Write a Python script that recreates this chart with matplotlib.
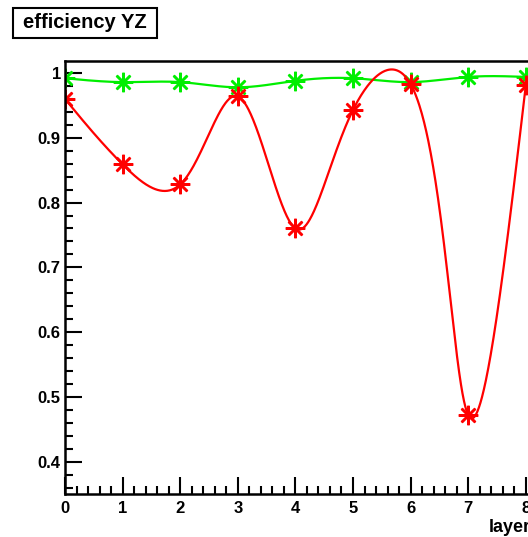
import numpy as np
import matplotlib.pyplot as plt
from matplotlib.patches import Rectangle

plt.rcParams['font.family'] = ['Liberation Sans', 'DejaVu Sans']
plt.rcParams['font.weight'] = 'bold'

layers = [0, 1, 2, 3, 4, 5, 6, 7, 8]
eff_green = [0.992, 0.986, 0.986, 0.978, 0.988, 0.992, 0.986, 0.994, 0.994]
eff_red = [0.960, 0.859, 0.828, 0.964, 0.760, 0.943, 0.983, 0.472, 0.981]

PX_X = 57.6   # pixels per layer
PX_Y = 647.0  # pixels per unit of efficiency


def spline_1d(t, y, ts):
    # natural cubic spline y(t) evaluated at ts
    m = len(t)
    h = np.diff(t)
    A = np.zeros((m, m))
    r = np.zeros(m)
    A[0, 0] = A[-1, -1] = 1
    for i in range(1, m - 1):
        A[i, i - 1] = h[i - 1]
        A[i, i] = 2 * (h[i - 1] + h[i])
        A[i, i + 1] = h[i]
        r[i] = 3 * ((y[i + 1] - y[i]) / h[i] - (y[i] - y[i - 1]) / h[i - 1])
    c = np.linalg.solve(A, r)
    b = (y[1:] - y[:-1]) / h - h * (2 * c[:-1] + c[1:]) / 3
    d = (c[1:] - c[:-1]) / (3 * h)
    idx = np.clip(np.searchsorted(t, ts) - 1, 0, m - 2)
    u = ts - t[idx]
    return y[idx] + b[idx] * u + c[idx] * u ** 2 + d[idx] * u ** 3


def smooth_curve(x, y, alpha=0.4, n=800):
    # parametric spline, parameter from screen-space chord lengths (ROOT "C"-like)
    x = np.asarray(x, float)
    y = np.asarray(y, float)
    seg = np.hypot(np.diff(x) * PX_X, np.diff(y) * PX_Y) ** alpha
    t = np.concatenate([[0], np.cumsum(seg)])
    ts = np.linspace(0, t[-1], n)
    return spline_1d(t, x, ts), spline_1d(t, y, ts)


fig = plt.figure(figsize=(5.28, 5.37), dpi=100)
ax = fig.add_axes([65 / 528, 43 / 537, 9 * PX_X / 528, 433 / 537])

star = (8, 2, 0)
for vals, col in [(eff_green, '#00ee00'), (eff_red, '#ff0000')]:
    xs, ys = smooth_curve(layers, vals)
    ax.plot(xs, ys, color=col, lw=1.6)
    ax.plot(layers, vals, ls='none', marker=star, ms=14, mew=1.8, color=col)

ax.set_xlim(0, 9)
ax.set_ylim(0.35, 1.0186)
ax.set_xticks(range(0, 10))
ax.set_xticks(np.arange(0, 9.01, 0.2), minor=True)
ax.set_yticks([0.4, 0.5, 0.6, 0.7, 0.8, 0.9, 1.0])
ax.set_yticklabels(['0.4', '0.5', '0.6', '0.7', '0.8', '0.9', '1'])
ax.set_yticks(np.arange(0.36, 1.011, 0.02), minor=True)
ax.tick_params(which='both', direction='in', top=False, right=False,
               labelsize=12, width=1.5)
ax.tick_params(which='major', length=12)
ax.tick_params(axis='y', which='major', pad=3)
ax.tick_params(axis='x', which='major', pad=5)
ax.tick_params(which='minor', length=6)
for lbl in ax.get_xticklabels() + ax.get_yticklabels():
    lbl.set_fontweight('bold')
for s in ax.spines.values():
    s.set_linewidth(1.8)

fig.text(489 / 528, 1 - 527 / 537, 'layer', fontsize=13, fontweight='bold',
         ha='left', va='center')

# title box
fig.patches.append(Rectangle((13 / 528, 1 - 38 / 537), 144 / 528, 30 / 537,
                             transform=fig.transFigure, fc='white', ec='black',
                             lw=1.5))
fig.text(85 / 528, 1 - 23 / 537, 'efficiency YZ', fontsize=14.5,
         fontweight='bold', ha='center', va='center')

fig.savefig('out.png', dpi=100)
